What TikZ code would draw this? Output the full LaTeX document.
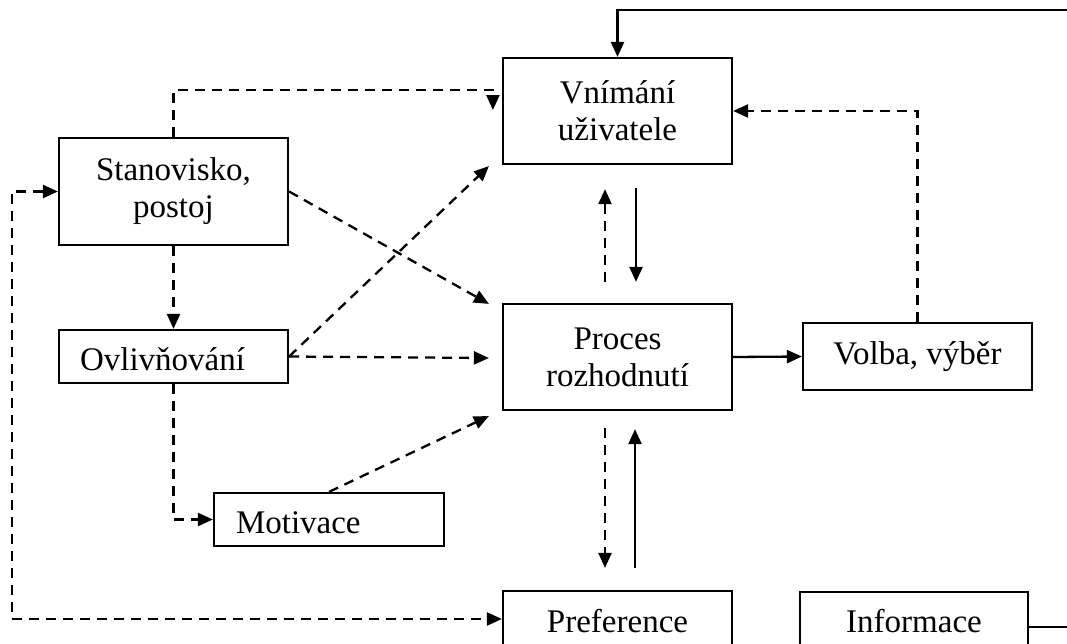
\documentclass[tikz,border=0pt]{standalone}
\usepackage{fontspec}
\setmainfont{Liberation Serif}
\usetikzlibrary{arrows.meta,calc}
\begin{document}
\begin{tikzpicture}[x=1pt,y=-1pt,
  box/.style={draw,line width=2.2pt,inner sep=0pt,align=center,
    font=\fontsize{33}{37}\selectfont},
  leftbox/.style={draw,line width=2.2pt,inner ysep=0pt,align=left,
    text height=28pt,text depth=0pt,font=\fontsize{33}{37}\selectfont},
  sline/.style={line width=2.3pt},
  dline/.style={line width=2.3pt,dash pattern=on 10pt off 7pt},
  tip/.style={-{Triangle[length=15pt,width=13pt]}},
  dtip/.style={{Triangle[length=15pt,width=13pt]}-{Triangle[length=15pt,width=13pt]}}]
\useasboundingbox (0,0) rectangle (1067,643);
\clip (0,0) rectangle (1067,643);

% nodes
\node[box,minimum width=229pt,minimum height=106pt] (vn) at (617.5,111) {Vnímání\\uživatele};
\node[box,minimum width=229pt,minimum height=107pt] (st) at (173.5,191.5) {Stanovisko,\\postoj};
\node[leftbox,text width=187pt,inner xsep=21pt,minimum height=53pt] (ov) at (173.5,356.5) {Ovlivňování};
\node[leftbox,text width=186pt,inner xsep=22pt,minimum height=53pt] (mo) at (329,519.5) {Motivace};
\node[box,minimum width=229pt,minimum height=106pt] (pr) at (617.5,357) {Proces\\rozhodnutí};
\node[box,minimum width=229pt,minimum height=67pt] (vo) at (917.5,356.5) {Volba, výběr};
\node[box,minimum width=229pt,minimum height=60pt] (pf) at (617.5,621) {Preference};
\node[box,minimum width=228pt,minimum height=58pt] (in) at (914,621) {Informace};

% free-end coordinates (outside the visible area)
\coordinate (rc) at (1085,627);
\coordinate (rt) at (1085,10);
\coordinate (lx) at (12,400);

% solid connectors
\draw[sline,tip] ($(in.east)+(0,6)$) -- (rc) -- (rt) -| (vn.north);
\draw[sline,tip] (pr.east) -- (vo.west);
\draw[sline,tip] ($(vn.south)+(18.5,23)$) -- ($(pr.north)+(18.5,-21)$);
\draw[sline,tip] ($(pf.north)+(17.5,-22)$) -- ($(pr.south)+(17.5,18)$);

% dashed connectors
\draw[dline,tip] (vo.north) |- (vn.east);
\draw[dline,tip] (st.north) |- ($(vn.west)+(-9,-21)$) -- ($(vn.west)+(-9,-1)$);
\draw[dline,dtip] (st.west) -| (lx) |- ($(pf.west)+(0,-2)$);
\draw[dline,tip] (st.south) -- (ov.north);
\draw[dline,tip] (ov.south) |- (mo.west);
\draw[dline,tip] (st.east) -- ($(pr.north west)+(-13,1)$);
\draw[dline,tip] (ov.east) -- ($(vn.south west)+(-13,1)$);
\draw[dline,tip] (ov.east) -- ($(pr.west)+(-13,1)$);
\draw[dline,tip] (mo.north) -- ($(pr.south west)+(-13,5)$);
\draw[dline,tip] ($(pr.north)+(-12.5,-21)$) -- ($(vn.south)+(-12.5,24)$);
\draw[dline,tip] ($(pr.south)+(-12.5,17)$) -- ($(pf.north)+(-12.5,-22)$);
\end{tikzpicture}
\end{document}
